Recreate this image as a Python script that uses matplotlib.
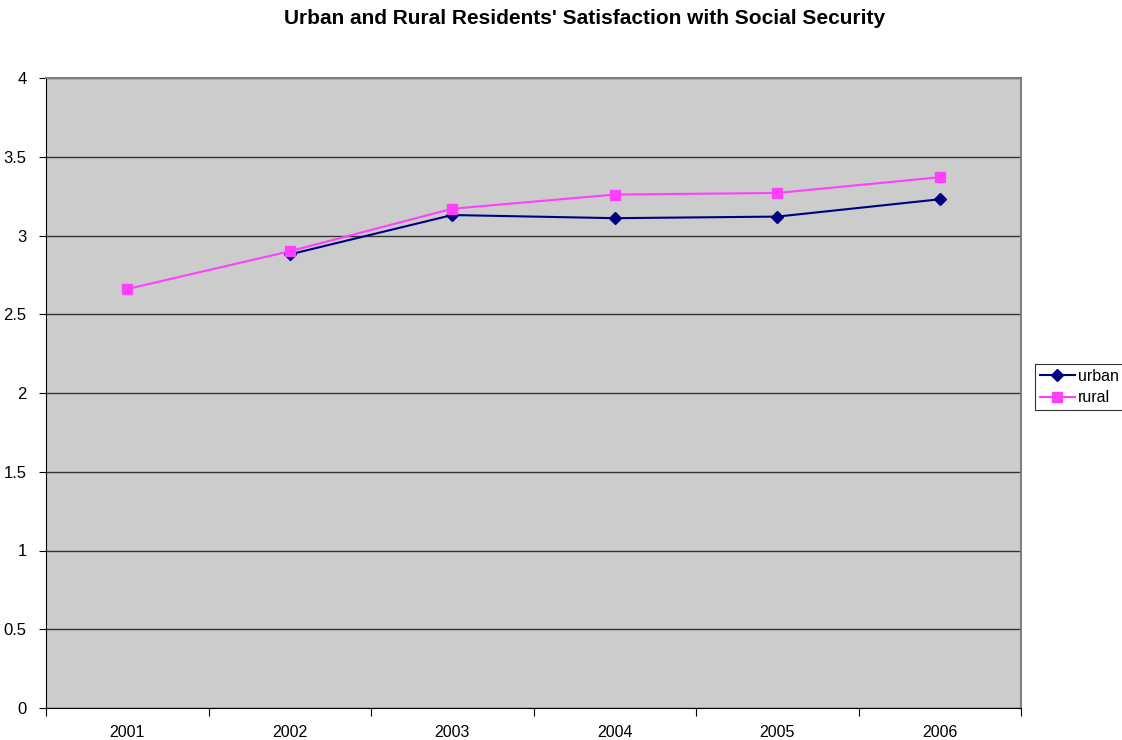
import matplotlib
matplotlib.use("Agg")
import matplotlib.pyplot as plt
import numpy as np

years = ["2001", "2002", "2003", "2004", "2005", "2006"]
urban = [np.nan, 2.88, 3.13, 3.11, 3.12, 3.23]
rural = [2.66, 2.90, 3.17, 3.26, 3.27, 3.37]
y_ticks = [0, 0.5, 1, 1.5, 2, 2.5, 3, 3.5, 4]
y_labels = ["0", "0.5", "1", "1.5", "2", "2.5", "3", "3.5", "4"]

plt.rcParams["font.family"] = ["Liberation Sans", "DejaVu Sans"]

fig = plt.figure(figsize=(11.22, 7.4), dpi=100)
ax = fig.add_axes([46 / 1122, 1 - 708 / 740, (1021 - 46) / 1122, (708 - 78) / 740])
ax.set_facecolor("#cccccc")

x = np.arange(len(years))
ax.plot(x, urban, color="#000080", marker="D", markersize=6, lw=1.5,
        label="urban", zorder=3)
ax.plot(x, rural, color="#ff40ff", marker="s", markersize=7, lw=1.5,
        label="rural", zorder=4)

ax.set_xlim(-0.5, len(years) - 0.5)
ax.set_ylim(0, 4)
ax.set_yticks(y_ticks)
ax.set_yticklabels(y_labels, fontsize=12)
ax.yaxis.grid(True, color="#333333", lw=1.0)
ax.set_axisbelow(True)

ax.set_xticks(np.arange(-0.5, len(years)), minor=False)
ax.set_xticklabels([])
ax.set_xticks(x, minor=True)
ax.set_xticklabels(years, minor=True, fontsize=11.5)
ax.tick_params(axis="x", which="major", length=6, direction="out", color="#000000")
ax.tick_params(axis="x", which="minor", length=0, pad=12.5)
ax.tick_params(axis="y", length=5, direction="out", pad=9)

for side in ("top", "right"):
    ax.spines[side].set_color("#808080")
    ax.spines[side].set_linewidth(1.5)
for side in ("left", "bottom"):
    ax.spines[side].set_color("#000000")

fig.text(585 / 1122, 1 - 18 / 740, "Urban and Rural Residents' Satisfaction with Social Security",
         ha="center", va="center", fontsize=15, fontweight="bold")

leg = fig.legend(loc="upper left", bbox_to_anchor=(1035 / 1122, 1 - 364 / 740),
                 fontsize=11.5, frameon=True, fancybox=False, edgecolor="#000000",
                 borderpad=0.3, labelspacing=0.4, handlelength=2.2, handletextpad=0.2,
                 borderaxespad=0)
leg.get_frame().set_linewidth(0.8)

fig.savefig("out.png", dpi=100, facecolor="white")
